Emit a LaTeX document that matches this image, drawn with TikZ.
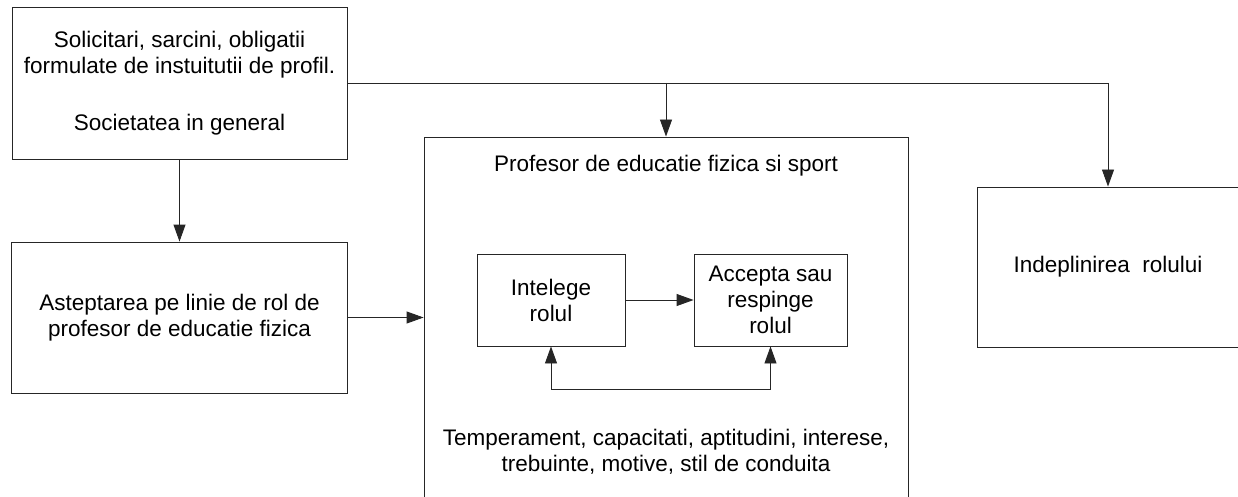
\documentclass[tikz,border=0pt]{standalone}
\usepackage{fontspec}
\setmainfont{Liberation Sans}
\usetikzlibrary{arrows.meta}
\tikzset{
  box/.style={draw=black!85, line width=0.9pt, rectangle, align=center, inner sep=0pt,
    font=\fontsize{22.5}{26}\selectfont},
  lbl/.style={align=center, inner sep=0pt, font=\fontsize{22.5}{26}\selectfont},
  conn/.style={draw=black!85, line width=0.9pt, -{Triangle[length=17pt,width=12pt]}},
  plain/.style={draw=black!85, line width=0.9pt},
}
\begin{document}
\begin{tikzpicture}[x=1pt,y=-1pt]
\useasboundingbox (0,0) rectangle (1238,497);
\fill[white] (0,0) rectangle (1238,497);

\node[box, minimum width=335pt, minimum height=152pt] (b1) at (179.5,83)
  {Solicitari, sarcini, obligatii\\formulate de instuitutii de profil.\\[31pt]Societatea in general};
\node[box, minimum width=336pt, minimum height=151pt] (b2) at (179.5,317.5)
  {Asteptarea pe linie de rol de\\profesor de educatie fizica};
\node[box, minimum width=484pt, minimum height=372pt] (big) at (666,323) {};
\node[lbl] (title) at (666,166) {Profesor de educatie fizica si sport};
\node[lbl] (traits) at (666,452) {Temperament, capacitati, aptitudini, interese,\\trebuinte, motive, stil de conduita};
\node[box, minimum width=148pt, minimum height=92pt] (int) at (551,300) {Intelege\\rolul};
\node[box, minimum width=153pt, minimum height=92pt] (acc) at (770.5,300) {Accepta sau\\respinge\\rolul};
\node[box, minimum width=262pt, minimum height=160pt] (ind) at (1108,267) {Indeplinirea~~rolului};

\coordinate (corner) at (1108,83);
\coordinate (branch) at (666,83);
\draw[plain] (b1.east) -- (corner);
\draw[conn] (corner) -- (ind.north);
\draw[conn] (branch) -- (big.north);
\draw[conn] (b1.south) -- (b2.north);
\draw[conn] (b2.east) -- (b2.east -| big.west);
\draw[conn] (int.east) -- (acc.west);
\coordinate (loopl) at (551,389);
\draw[draw=black!85, line width=0.9pt, {Triangle[length=17pt,width=12pt]}-{Triangle[length=17pt,width=12pt]}]
  (int.south) -- (loopl) -| (acc.south);
\end{tikzpicture}
\end{document}
